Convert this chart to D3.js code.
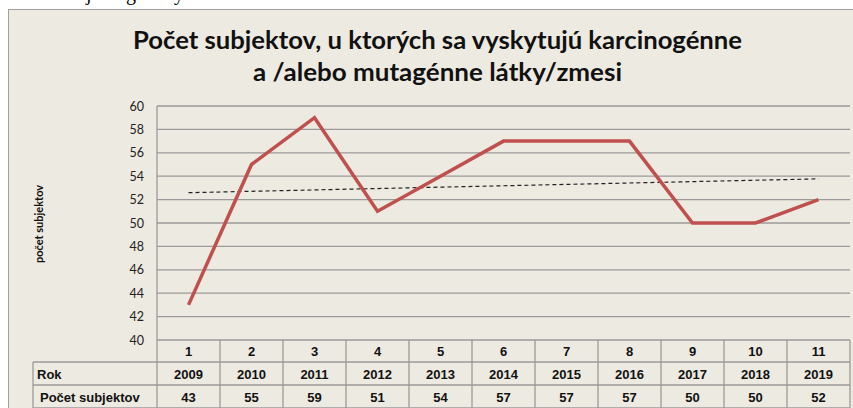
<!DOCTYPE html>
<html>
<head>
<meta charset="utf-8">
<script src="https://cdn.jsdelivr.net/npm/d3@7"></script>
<style>
  body { margin: 0; background: #fff; }
  svg { display: block; }
</style>
</head>
<body>
<svg width="853" height="408"></svg>
<script>
// data
var indexes = [1, 2, 3, 4, 5, 6, 7, 8, 9, 10, 11];
var years = [2009, 2010, 2011, 2012, 2013, 2014, 2015, 2016, 2017, 2018, 2019];
var counts = [43, 55, 59, 51, 54, 57, 57, 57, 50, 50, 52];
var yTicks = [40, 42, 44, 46, 48, 50, 52, 54, 56, 58, 60];
var titleLines = ['Počet subjektov, u ktorých sa vyskytujú karcinogénne', 'a /alebo mutagénne látky/zmesi'];
var rowLabels = ['Rok', 'Počet subjektov'];

var svg = d3.select('svg');
var grid = '#9a9a9a';
var calibri = 'Lato, "Open Sans", sans-serif';

// bits of the page text above the chart (only descenders show)
[['j', 86], ['g', 126], ['y', 174]].forEach(function(g) {
    svg.append('text')
        .attr('x', g[1]).attr('y', 0)
        .style('font-family', '"Liberation Serif", serif')
        .style('font-size', '20px')
        .text(g[0]);
});

// chart box
svg.append('rect')
    .attr('x', 8.5).attr('y', 9.5)
    .attr('width', 900).attr('height', 430)
    .attr('fill', '#edeae1')
    .attr('stroke', '#a0a0a0');

// title
var titleG = svg.append('g')
    .style('font-family', calibri)
    .style('font-weight', 'bold')
    .style('font-size', '24px')
    .attr('fill', '#111');
titleG.append('text')
    .attr('x', 133).attr('y', 49)
    .attr('textLength', 609).attr('lengthAdjust', 'spacingAndGlyphs')
    .text(titleLines[0]);
titleG.append('text')
    .attr('x', 253).attr('y', 81)
    .attr('textLength', 369).attr('lengthAdjust', 'spacingAndGlyphs')
    .text(titleLines[1]);

var plotLeft = 157, plotRight = 850, plotTop = 106, plotBottom = 340;

var xScale = d3.scaleBand().domain(indexes).range([plotLeft, plotRight]);
var yScale = d3.scaleLinear().domain([40, 60]).range([plotBottom, plotTop]);

var chartG = svg.append('g');

// gridlines
chartG.selectAll('.grid')
    .data(yTicks.filter(function(d) { return d > 40; }))
    .enter().append('line')
    .attr('class', 'grid')
    .attr('x1', plotLeft).attr('x2', plotRight)
    .attr('y1', function(d) { return yScale(d); })
    .attr('y2', function(d) { return yScale(d); })
    .attr('stroke', grid).attr('stroke-width', 1.3);

chartG.append('line')
    .attr('x1', plotLeft).attr('x2', plotLeft)
    .attr('y1', plotTop).attr('y2', plotBottom)
    .attr('stroke', grid).attr('stroke-width', 1.3);

// y axis labels
var yAxisG = chartG.append('g')
    .attr('transform', 'translate(' + (plotLeft - 13) + ',0)')
    .call(d3.axisLeft(yScale).tickValues(yTicks).tickSize(0).tickPadding(0));
yAxisG.select('.domain').remove();
yAxisG.selectAll('text')
    .style('font-family', calibri)
    .style('font-size', '12.5px')
    .attr('fill', '#222');

svg.append('text')
    .attr('transform', 'translate(43,224) rotate(-90)')
    .attr('text-anchor', 'middle')
    .style('font-family', calibri)
    .style('font-weight', 'bold')
    .style('font-size', '11px')
    .attr('fill', '#111')
    .text('počet subjektov');

// trend line (least squares over the series)
var n = indexes.length;
var mx = d3.mean(indexes), my = d3.mean(counts);
var sxy = d3.sum(indexes, function(d, i) { return (d - mx) * (counts[i] - my); });
var sxx = d3.sum(indexes, function(d) { return (d - mx) * (d - mx); });
var slope = sxy / sxx;
var trend = [indexes[0], indexes[n - 1]].map(function(d) {
    return { x: d, y: my + slope * (d - mx) };
});

var cx = function(d) { return xScale(d) + xScale.bandwidth() / 2; };

chartG.append('path')
    .datum(trend)
    .attr('fill', 'none')
    .attr('stroke', '#222')
    .attr('stroke-width', 1.2)
    .attr('stroke-dasharray', '4,3')
    .attr('d', d3.line().x(function(d) { return cx(d.x); }).y(function(d) { return yScale(d.y); }));

// data line
chartG.append('path')
    .datum(counts)
    .attr('fill', 'none')
    .attr('stroke', '#c0504d')
    .attr('stroke-width', 3.5)
    .attr('stroke-linejoin', 'miter')
    .attr('d', d3.line()
        .x(function(d, i) { return cx(indexes[i]); })
        .y(function(d) { return yScale(d); }));

// data table
var rows = [340, 362, 385, 408];
var headLeft = 33;
var tableG = svg.append('g');

tableG.append('line')
    .attr('x1', plotLeft).attr('x2', plotRight)
    .attr('y1', rows[0]).attr('y2', rows[0])
    .attr('stroke', grid).attr('stroke-width', 1.3);
[rows[1], rows[2], rows[3]].forEach(function(y) {
    tableG.append('line')
        .attr('x1', headLeft).attr('x2', plotRight)
        .attr('y1', y).attr('y2', y)
        .attr('stroke', grid).attr('stroke-width', 1.3);
});
tableG.append('line')
    .attr('x1', headLeft).attr('x2', headLeft)
    .attr('y1', rows[1]).attr('y2', rows[3])
    .attr('stroke', grid).attr('stroke-width', 1.3);
tableG.selectAll('.vcol')
    .data(indexes.concat([null]))
    .enter().append('line')
    .attr('class', 'vcol')
    .attr('x1', function(d, i) { return plotLeft + i * xScale.bandwidth(); })
    .attr('x2', function(d, i) { return plotLeft + i * xScale.bandwidth(); })
    .attr('y1', rows[0]).attr('y2', rows[3])
    .attr('stroke', grid).attr('stroke-width', 1.3);

var cellFont = function(sel) {
    sel.style('font-family', '"Liberation Sans", Arial, sans-serif')
        .style('font-weight', 'bold')
        .style('font-size', '13px')
        .attr('fill', '#111');
};

[indexes, years, counts].forEach(function(vals, r) {
    tableG.selectAll('.cell' + r)
        .data(vals)
        .enter().append('text')
        .attr('class', 'cell' + r)
        .attr('x', function(d, i) { return cx(indexes[i]); })
        .attr('y', (rows[r] + rows[r + 1]) / 2 + 5)
        .attr('text-anchor', 'middle')
        .call(cellFont)
        .text(function(d) { return d; });
});

rowLabels.forEach(function(label, r) {
    tableG.append('text')
        .attr('x', r === 0 ? 37 : 40)
        .attr('y', (rows[r + 1] + rows[r + 2]) / 2 + 5)
        .call(cellFont)
        .text(label);
});
</script>
</body>
</html>
